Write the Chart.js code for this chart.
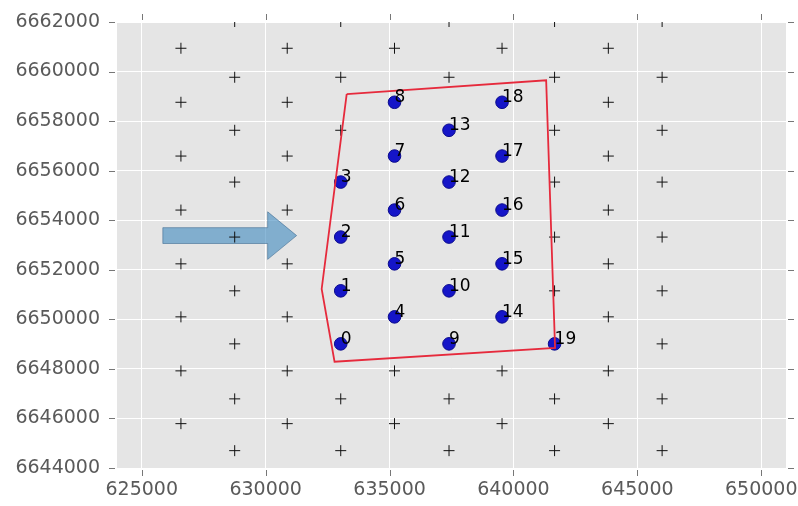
<!DOCTYPE html>
<html>
<head>
<meta charset="utf-8">
<script src="https://cdn.jsdelivr.net/npm/chart.js@4.4.1/dist/chart.umd.min.js"></script>
<style>
  html, body { margin: 0; padding: 0; background: #ffffff; }
  canvas { display: block; }
</style>
</head>
<body>
<canvas id="layout" width="798" height="506"></canvas>
<script>
// Numbered turbine sites (easting / northing, metres)
const siteX = [
  633030, 633030, 633030, 633030,
  635200, 635200, 635200, 635200, 635200,
  637400, 637400, 637400, 637400, 637400,
  639540, 639540, 639540, 639540, 639540,
  641660
];
const siteY = [
  6649010, 6651150, 6653320, 6655540,
  6650100, 6652240, 6654410, 6656590, 6658760,
  6649010, 6651150, 6653320, 6655540, 6657630,
  6650100, 6652240, 6654410, 6656590, 6658760,
  6649010
];
const siteLabels = ['0','1','2','3','4','5','6','7','8','9','10','11','12','13','14','15','16','17','18','19'];

// Staggered reference grid outside the site area
const gridX = [
  626580, 626580, 626580, 626580, 626580, 626580, 626580, 626580,
  628750, 628750, 628750, 628750, 628750, 628750, 628750, 628750, 628750,
  630870, 630870, 630870, 630870, 630870, 630870, 630870, 630870,
  633030, 633030, 633030, 633030, 633030,
  635200, 635200, 635200,
  637400, 637400, 637400, 637400,
  639540, 639540, 639540,
  641660, 641660, 641660, 641660, 641660, 641660, 641660, 641660,
  643830, 643830, 643830, 643830, 643830, 643830, 643830, 643830,
  646000, 646000, 646000, 646000, 646000, 646000, 646000, 646000, 646000
];
const gridY = [
  6660940, 6658760, 6656590, 6654410, 6652240, 6650100, 6647920, 6645790,
  6662020, 6659770, 6657630, 6655540, 6653320, 6651150, 6649010, 6646790, 6644700,
  6660940, 6658760, 6656590, 6654410, 6652240, 6650100, 6647920, 6645790,
  6662020, 6659770, 6657630, 6646790, 6644700,
  6660940, 6647920, 6645790,
  6662020, 6659770, 6646790, 6644700,
  6660940, 6647920, 6645790,
  6662020, 6659770, 6657630, 6655540, 6653320, 6651150, 6646790, 6644700,
  6660940, 6658760, 6656590, 6654410, 6652240, 6650100, 6647920, 6645790,
  6662020, 6659770, 6657630, 6655540, 6653320, 6651150, 6649010, 6646790, 6644700
];

// Site boundary polygon vertices
const boundaryX = [633270, 641320, 641680, 632780, 632260];
const boundaryY = [6659090, 6659650, 6648850, 6648290, 6651230];

// Axis ticks
const xTicks = [625000, 630000, 635000, 640000, 645000, 650000];
const yTicks = [6644000, 6646000, 6648000, 6650000, 6652000, 6654000, 6656000, 6658000, 6660000, 6662000];

// Wind direction arrow (data units)
const windArrow = { x0: 625850, x1: 631250, y: 6653380, shaftHalf: 320, headHalf: 960, headLen: 1170 };

const toPoints = (xs, ys) => xs.map((x, i) => ({ x: x, y: ys[i] }));
const boundaryPts = toPoints(boundaryX, boundaryY);
boundaryPts.push(boundaryPts[0]);

const FONT = "'DejaVu Sans', sans-serif";

const backdrop = {
  id: 'backdrop',
  beforeDraw(chart) {
    const { ctx, chartArea: a } = chart;
    ctx.save();
    ctx.fillStyle = '#e5e5e5';
    ctx.fillRect(a.left, a.top, a.right - a.left, a.bottom - a.top);
    ctx.restore();
  }
};

const arrowLayer = {
  id: 'arrowLayer',
  beforeDatasetsDraw(chart) {
    const { ctx, scales: { x, y } } = chart;
    const A = windArrow;
    const hx = A.x1 - A.headLen;
    const pts = [
      [A.x0, A.y + A.shaftHalf], [hx, A.y + A.shaftHalf], [hx, A.y + A.headHalf],
      [A.x1, A.y], [hx, A.y - A.headHalf], [hx, A.y - A.shaftHalf], [A.x0, A.y - A.shaftHalf]
    ];
    ctx.save();
    ctx.beginPath();
    pts.forEach((p, i) => {
      const px = x.getPixelForValue(p[0]), py = y.getPixelForValue(p[1]);
      if (i === 0) ctx.moveTo(px, py); else ctx.lineTo(px, py);
    });
    ctx.closePath();
    ctx.fillStyle = 'rgba(62,136,190,0.6)';
    ctx.fill();
    ctx.strokeStyle = 'rgba(55,100,140,0.55)';
    ctx.lineWidth = 1;
    ctx.stroke();
    ctx.restore();
  }
};

const siteNumbers = {
  id: 'siteNumbers',
  afterDatasetsDraw(chart) {
    const { ctx, scales: { x, y } } = chart;
    ctx.save();
    ctx.font = '17px ' + FONT;
    ctx.fillStyle = '#000000';
    ctx.textAlign = 'left';
    ctx.textBaseline = 'alphabetic';
    siteLabels.forEach((t, i) => {
      ctx.fillText(t, x.getPixelForValue(siteX[i]), y.getPixelForValue(siteY[i]));
    });
    ctx.restore();
  }
};

const outerTicks = {
  id: 'outerTicks',
  afterDraw(chart) {
    const { ctx, chartArea: a, scales: { x, y } } = chart;
    ctx.save();
    ctx.strokeStyle = '#777777';
    ctx.lineWidth = 1;
    ctx.beginPath();
    xTicks.forEach(v => {
      const px = Math.round(x.getPixelForValue(v)) + 0.5;
      ctx.moveTo(px, a.bottom + 2); ctx.lineTo(px, a.bottom + 8);
      ctx.moveTo(px, a.top - 2); ctx.lineTo(px, a.top - 8);
    });
    yTicks.forEach(v => {
      const py = Math.round(y.getPixelForValue(v)) + 0.5;
      ctx.moveTo(a.left - 2, py); ctx.lineTo(a.left - 8, py);
      ctx.moveTo(a.right + 2, py); ctx.lineTo(a.right + 8, py);
    });
    ctx.stroke();
    ctx.restore();
  }
};

// Fix the scale boxes so the plot area keeps its place on the canvas
const fixBox = (size, horizontal) => s => {
  if (horizontal) s.height = size; else s.width = size;
  s.paddingLeft = 0; s.paddingRight = 0; s.paddingTop = 0; s.paddingBottom = 0;
};

new Chart(document.getElementById('layout'), {
  type: 'scatter',
  data: {
    datasets: [
      {
        label: 'boundary',
        data: boundaryPts,
        showLine: true,
        borderColor: '#e62a3c',
        borderWidth: 1.8,
        pointRadius: 0,
        tension: 0,
        fill: false
      },
      {
        label: 'sites',
        data: toPoints(siteX, siteY),
        pointRadius: 6.3,
        backgroundColor: '#1515c8',
        borderColor: '#0c0c8c',
        borderWidth: 1
      },
      {
        label: 'grid',
        data: toPoints(gridX, gridY),
        pointStyle: 'cross',
        pointRadius: 5.5,
        borderColor: '#111111',
        borderWidth: 1,
        clip: 0
      }
    ]
  },
  options: {
    responsive: false,
    animation: false,
    events: [],
    devicePixelRatio: 1,
    layout: { padding: { top: 22, right: 12, left: 0, bottom: 0 } },
    plugins: { legend: { display: false }, tooltip: { enabled: false } },
    scales: {
      x: {
        type: 'linear',
        min: 624000,
        max: 651000,
        afterBuildTicks: s => { s.ticks = xTicks.map(v => ({ value: v })); },
        afterFit: fixBox(38, true),
        grid: { color: '#ffffff', lineWidth: 1, drawTicks: false },
        border: { display: false },
        ticks: {
          padding: 11,
          color: '#5a5a5a',
          font: { family: FONT, size: 19 },
          maxRotation: 0,
          autoSkip: false,
          callback: v => String(v)
        }
      },
      y: {
        type: 'linear',
        min: 6644000,
        max: 6662000,
        afterBuildTicks: s => { s.ticks = yTicks.map(v => ({ value: v })); },
        afterFit: fixBox(117, false),
        grid: { color: '#ffffff', lineWidth: 1, drawTicks: false },
        border: { display: false },
        ticks: {
          padding: 17,
          color: '#5a5a5a',
          font: { family: FONT, size: 19 },
          autoSkip: false,
          callback: v => String(v)
        }
      }
    }
  },
  plugins: [backdrop, arrowLayer, siteNumbers, outerTicks]
});
</script>
</body>
</html>
